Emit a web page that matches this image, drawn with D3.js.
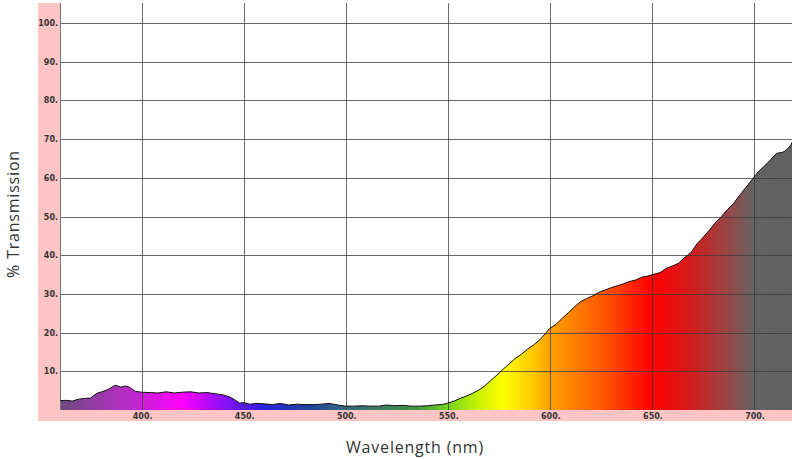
<!DOCTYPE html>
<html lang="en">
<head>
<meta charset="UTF-8">
<title>Transmission spectrum</title>
<script src="https://d3js.org/d3.v7.min.js"></script>
<style>
body{margin:0; background:#fff;}
svg text{fill:#333;}
.tick{font-family:Tahoma, "DejaVu Sans", sans-serif; font-size:8px; font-weight:bold;}
.title{font-family:"Open Sans", sans-serif; font-size:16px; letter-spacing:0.8px;}
</style>
</head>
<body>
<div id="chart"></div>
<script>
// wavelengths (nm) and % transmission
var wavelength = [360,363,366,369,372,375,378,381,384,387,390,392,394,397,400,404,408,412,416,420,
	424,428,432,436,440,443,446,448,450,453,456,460,464,468,472,476,480,484,488,492,
	494,496,500,504,508,512,516,520,524,528,532,536,540,544,548,550,553,556,559,562,
	565,568,571,574,577,580,583,586,589,592,595,598,600,603,606,609,612,615,618,621,
	624,627,630,633,636,639,642,645,648,651,654,657,660,663,666,669,672,675,678,681,
	684,687,690,693,696,699,702,705,708,711,714,716,718,719];
var transmission = [2.4,2.5,2.3,2.8,3.0,3.1,4.3,4.8,5.4,6.4,5.9,6.2,5.9,4.8,4.6,4.5,4.4,4.7,4.4,4.6,
	4.7,4.4,4.5,4.2,3.9,3.4,2.5,1.8,1.9,1.5,1.7,1.6,1.4,1.7,1.3,1.5,1.4,1.4,1.5,1.7,
	1.5,1.3,1.0,1.0,1.1,1.0,1.0,1.3,1.1,1.2,1.0,1.0,1.1,1.3,1.5,1.8,2.3,3.0,3.6,4.3,
	5.1,6.2,7.6,9.0,10.5,11.9,13.3,14.4,15.7,16.8,18.1,19.9,21.1,22.1,23.7,25.1,26.6,28.0,28.8,29.5,
	30.4,31.0,31.6,32.1,32.6,33.2,33.6,34.3,34.6,35.1,35.5,36.6,37.2,37.9,39.4,40.6,42.9,44.6,46.4,48.4,
	50.0,51.8,53.4,55.5,57.5,59.5,61.5,63.0,64.6,66.3,66.6,67.2,68.5,69.5];

var xTicks = [400,450,500,550,600,650,700];
var yTicks = [10,20,30,40,50,60,70,80,90,100];

// spectrum colours along the wavelength axis
var stopWl = [360,390,420,440,460,480,495,515,535,550,565,577,590,600,625,650,670,690,700,719];
var stopColor = ["#6e4a7e","#b030c0","#ff00ff","#8a10f5","#2a22e0","#1f3f9a","#2f5f86","#3a7a66","#3f963e","#74d41e",
	"#c8f200","#ffff00","#ffcf00","#ffa000","#ff5a00","#ff0000","#d01e1e","#8e4c4c","#636363","#606060"];

var W = 792, H = 459;
var plotL = 60, plotR = 792, plotT = 3, plotB = 410;

var x = d3.scaleLinear().domain([360, 718.6]).range([plotL, plotR]);
var y = d3.scaleLinear().domain([0, 100]).range([plotB, 23]);

var svg = d3.select("#chart").append("svg")
	.attr("width", W)
	.attr("height", H);

// pink frame bands
svg.append("rect").attr("x", 38).attr("y", plotT).attr("width", plotL - 38).attr("height", 421 - plotT).attr("fill", "#ffc4c4");
svg.append("rect").attr("x", 38).attr("y", plotB).attr("width", plotR - 38).attr("height", 11).attr("fill", "#ffc4c4");

var grad = svg.append("defs").append("linearGradient")
	.attr("id", "spec")
	.attr("gradientUnits", "userSpaceOnUse")
	.attr("x1", x(360)).attr("x2", x(718.6))
	.attr("y1", 0).attr("y2", 0);
grad.selectAll("stop")
	.data(stopWl)
	.enter()
	.append("stop")
	.attr("offset", function(d){ return (d - 360) / (718.6 - 360); })
	.attr("stop-color", function(d, i){ return stopColor[i]; });

var pts = wavelength.map(function(d, i){ return [d, transmission[i]]; });

var area = d3.area()
	.x(function(d){ return x(d[0]); })
	.y0(y(0))
	.y1(function(d){ return y(d[1]); });

svg.append("path")
	.datum(pts)
	.attr("d", area)
	.attr("fill", "url(#spec)");

// grid on top of the fill
var grid = svg.append("g").attr("stroke", "#3a3a3a").attr("stroke-opacity", 0.75).attr("stroke-width", 1);
grid.selectAll("line.v")
	.data(xTicks)
	.enter()
	.append("line")
	.attr("x1", function(d){ return Math.round(x(d)) + 0.5; })
	.attr("x2", function(d){ return Math.round(x(d)) + 0.5; })
	.attr("y1", plotT).attr("y2", plotB);
grid.selectAll("line.h")
	.data(yTicks)
	.enter()
	.append("line")
	.attr("x1", plotL).attr("x2", plotR)
	.attr("y1", function(d){ return Math.round(y(d)) + 0.5; })
	.attr("y2", function(d){ return Math.round(y(d)) + 0.5; });

svg.append("line")
	.attr("x1", plotL + 0.5).attr("x2", plotL + 0.5)
	.attr("y1", plotT).attr("y2", plotB)
	.attr("stroke", "#777");

var line = d3.line()
	.x(function(d){ return x(d[0]); })
	.y(function(d){ return y(d[1]); });

svg.append("path")
	.datum(pts)
	.attr("d", line)
	.attr("fill", "none")
	.attr("stroke", "#111")
	.attr("stroke-width", 1);

// tick labels
svg.selectAll("text.yt")
	.data(yTicks)
	.enter()
	.append("text")
	.attr("class", "tick")
	.attr("x", plotL - 2)
	.attr("y", function(d){ return y(d) + 3; })
	.attr("text-anchor", "end")
	.text(function(d){ return d + "."; });

svg.selectAll("text.xt")
	.data(xTicks)
	.enter()
	.append("text")
	.attr("class", "tick")
	.attr("x", function(d){ return x(d) + 1; })
	.attr("y", 419)
	.attr("text-anchor", "middle")
	.text(function(d){ return d + "."; });

// axis titles
svg.append("text")
	.attr("class", "title")
	.attr("x", 415)
	.attr("y", 453)
	.attr("text-anchor", "middle")
	.text("Wavelength (nm)");

svg.append("text")
	.attr("class", "title")
	.attr("transform", "translate(19,214) rotate(-90)")
	.attr("text-anchor", "middle")
	.text("% Transmission");
</script>
</body>
</html>
